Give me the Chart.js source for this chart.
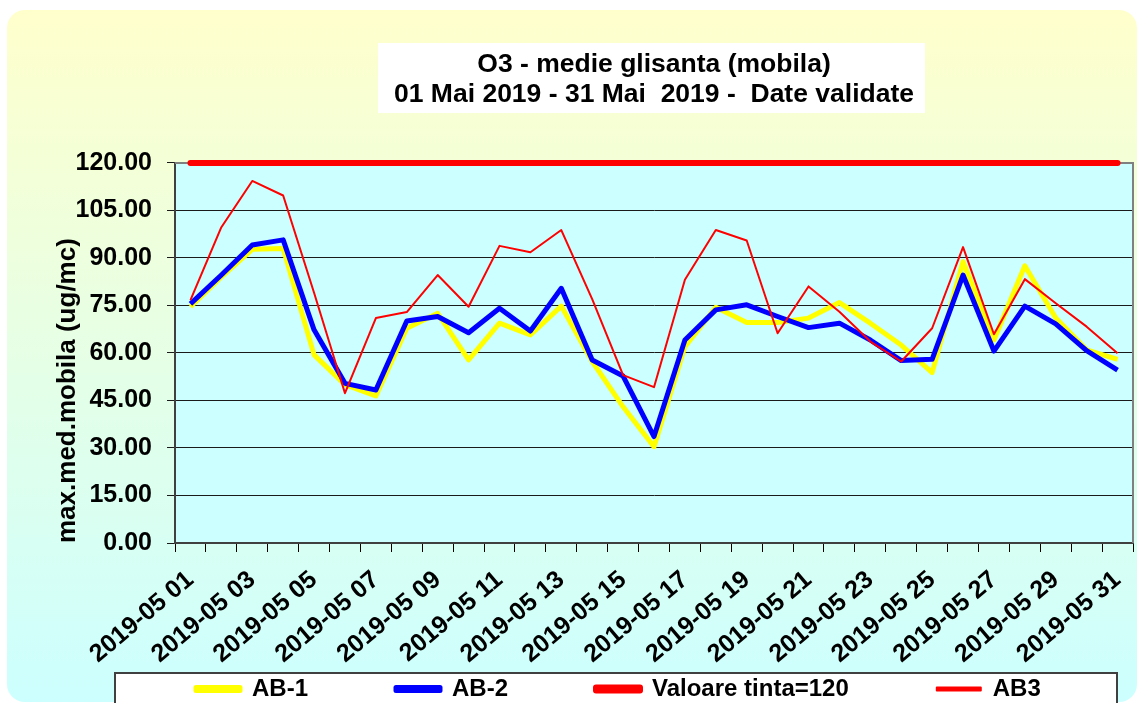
<!DOCTYPE html>
<html>
<head>
<meta charset="utf-8">
<title>O3 - medie glisanta (mobila)</title>
<script src="https://cdn.jsdelivr.net/npm/chart.js@4/dist/chart.umd.min.js"></script>
<style>
    body { margin: 0; background: #fff; }
    #wrap { width: 1139px; height: 703px; }
</style>
</head>
<body>
<div id="wrap"><canvas id="myChart" width="1139" height="703"></canvas></div>
<script>
// zilele lunii (categorii)
const dates = [
    '2019-05 01', '2019-05 02', '2019-05 03', '2019-05 04', '2019-05 05', '2019-05 06', '2019-05 07', '2019-05 08',
    '2019-05 09', '2019-05 10', '2019-05 11', '2019-05 12', '2019-05 13', '2019-05 14', '2019-05 15', '2019-05 16',
    '2019-05 17', '2019-05 18', '2019-05 19', '2019-05 20', '2019-05 21', '2019-05 22', '2019-05 23', '2019-05 24',
    '2019-05 25', '2019-05 26', '2019-05 27', '2019-05 28', '2019-05 29', '2019-05 30', '2019-05 31'
];

const ab1 = [74.6, 84.0, 92.7, 93.0, 59.4, 50.0, 46.4, 67.8, 72.5, 57.8, 69.4, 65.7, 74.8, 57.3, 43.0, 30.4,
    62.0, 74.4, 69.6, 69.6, 71.0, 75.9, 69.4, 62.5, 53.8, 88.8, 64.1, 87.5, 71.0, 61.0, 58.0];

const ab2 = [75.5, 84.6, 94.1, 95.7, 67.3, 50.4, 48.3, 70.1, 71.5, 66.4, 74.1, 66.9, 80.4, 57.8, 52.7, 33.6,
    64.1, 73.6, 75.2, 71.5, 68.0, 69.4, 64.1, 57.6, 58.0, 84.6, 60.6, 74.8, 69.2, 60.7, 54.6];

const ab3 = [76.7, 99.7, 114.3, 109.7, 79.0, 47.3, 71.0, 72.9, 84.6, 74.6, 93.8, 91.8, 98.8, 77.0, 53.0, 49.2,
    83.1, 98.8, 95.5, 66.2, 81.0, 73.0, 63.6, 57.3, 67.8, 93.4, 65.9, 83.3, 75.7, 68.3, 59.9];

const tinta = [120, 120, 120, 120, 120, 120, 120, 120, 120, 120, 120, 120, 120, 120, 120, 120,
    120, 120, 120, 120, 120, 120, 120, 120, 120, 120, 120, 120, 120, 120, 120];

const yTicks = [0, 15, 30, 45, 60, 75, 90, 105, 120];

Chart.defaults.font.family = 'Arial, "Liberation Sans", sans-serif';
Chart.defaults.color = '#000';

// fundal, caseta titlului, caseta legendei
const fundal = {
    id: 'fundal',
    beforeDraw(chart) {
        let ctx = chart.ctx;
        let a = chart.chartArea;
        ctx.save();
        let g = ctx.createLinearGradient(0, 10, 0, 703);
        g.addColorStop(0, '#ffffcc');
        g.addColorStop(1, '#ccffff');
        ctx.fillStyle = g;
        ctx.beginPath();
        ctx.roundRect(7, 10, 1130, 692, 18);
        ctx.fill();

        ctx.fillStyle = '#fff';
        ctx.fillRect(378, 43, 547, 70);

        ctx.fillStyle = '#ccffff';
        ctx.fillRect(a.left, a.top, a.right - a.left, a.bottom - a.top);

        ctx.fillStyle = '#fff';
        ctx.fillRect(115, 673, 1002, 40);
        ctx.strokeStyle = '#404040';
        ctx.lineWidth = 2;
        ctx.strokeRect(115, 673, 1002, 40);
        ctx.restore();

        // legenda jos, in caseta
        let lg = chart.legend;
        lg.left = 108;
        lg.right = 1139;
        lg.top = 589;
    },
    beforeDatasetsDraw(chart) {
        let ctx = chart.ctx;
        let a = chart.chartArea;
        ctx.save();
        ctx.strokeStyle = '#808080';
        ctx.lineWidth = 2;
        ctx.beginPath();
        ctx.moveTo(a.left, a.top);
        ctx.lineTo(a.right, a.top);
        ctx.lineTo(a.right, a.bottom);
        ctx.stroke();
        ctx.restore();
    }
};

let ctx = document.getElementById('myChart').getContext('2d');
let chart = new Chart(ctx, {
    type: 'line',
    data: {
        labels: dates,
        datasets: [{
            label: 'AB-1',
            data: ab1,
            borderColor: '#ffff00',
            backgroundColor: '#ffff00',
            borderWidth: 5,
            order: 4
        }, {
            label: 'AB-2',
            data: ab2,
            borderColor: '#0000ff',
            backgroundColor: '#0000ff',
            borderWidth: 5,
            order: 3
        }, {
            label: 'Valoare tinta=120',
            data: tinta,
            borderColor: '#ff0000',
            backgroundColor: '#ff0000',
            borderWidth: 6,
            borderCapStyle: 'round',
            order: 2
        }, {
            label: 'AB3',
            data: ab3,
            borderColor: '#ff0000',
            backgroundColor: '#ff0000',
            borderWidth: 2,
            order: 1
        }]
    },
    options: {
        responsive: false,
        animation: false,
        devicePixelRatio: 1,
        layout: { padding: { left: 0, right: 6, top: 0, bottom: 0 } },
        elements: {
            point: { radius: 0 },
            line: { tension: 0, borderJoinStyle: 'round', fill: false }
        },
        datasets: { line: { clip: false } },
        scales: {
            x: {
                offset: true,
                grid: { offset: true, drawOnChartArea: false, drawTicks: true, tickLength: 9, color: '#000', lineWidth: 1 },
                border: { color: '#404040', width: 2 },
                ticks: {
                    autoSkip: false,
                    maxRotation: 40,
                    minRotation: 40,
                    padding: 13,
                    font: { size: 25, weight: 'bold' },
                    callback: function(v, i) {
                        return i % 2 === 0 ? dates[i] : '';
                    }
                },
                afterFit: function(s) {
                    s.height = 130;
                    s.paddingLeft = 0;
                    s.paddingRight = 0;
                }
            },
            y: {
                min: 0,
                max: 120,
                afterBuildTicks: function(s) {
                    s.ticks = yTicks.map(v => ({ value: v }));
                },
                grid: { color: '#1a1a1a', lineWidth: 1, tickLength: 8 },
                border: { color: '#404040', width: 2 },
                ticks: {
                    padding: 15,
                    font: { size: 25, weight: 'bold' },
                    callback: v => v.toFixed(2)
                },
                title: {
                    display: true,
                    text: 'max.med.mobila (ug/mc)',
                    align: 'start',
                    font: { size: 26, weight: 'bold' },
                    padding: { top: 52, bottom: 0 }
                },
                afterFit: function(s) { s.width = 175; }
            }
        },
        plugins: {
            title: {
                display: true,
                fullSize: false,
                text: ['O3 - medie glisanta (mobila)', '01 Mai 2019 - 31 Mai  2019 -  Date validate'],
                font: { size: 26.5, weight: 'bold', lineHeight: 1.13 },
                padding: { top: 50, bottom: 53 },
                color: '#000'
            },
            legend: {
                position: 'bottom',
                align: 'start',
                maxHeight: 30,
                labels: {
                    boxWidth: 44,
                    boxHeight: 3,
                    padding: 88,
                    color: '#000',
                    font: { size: 24, weight: 'bold' },
                    sort: (a, b) => a.datasetIndex - b.datasetIndex
                }
            },
            tooltip: { enabled: false }
        }
    },
    plugins: [fundal]
});
</script>
</body>
</html>
